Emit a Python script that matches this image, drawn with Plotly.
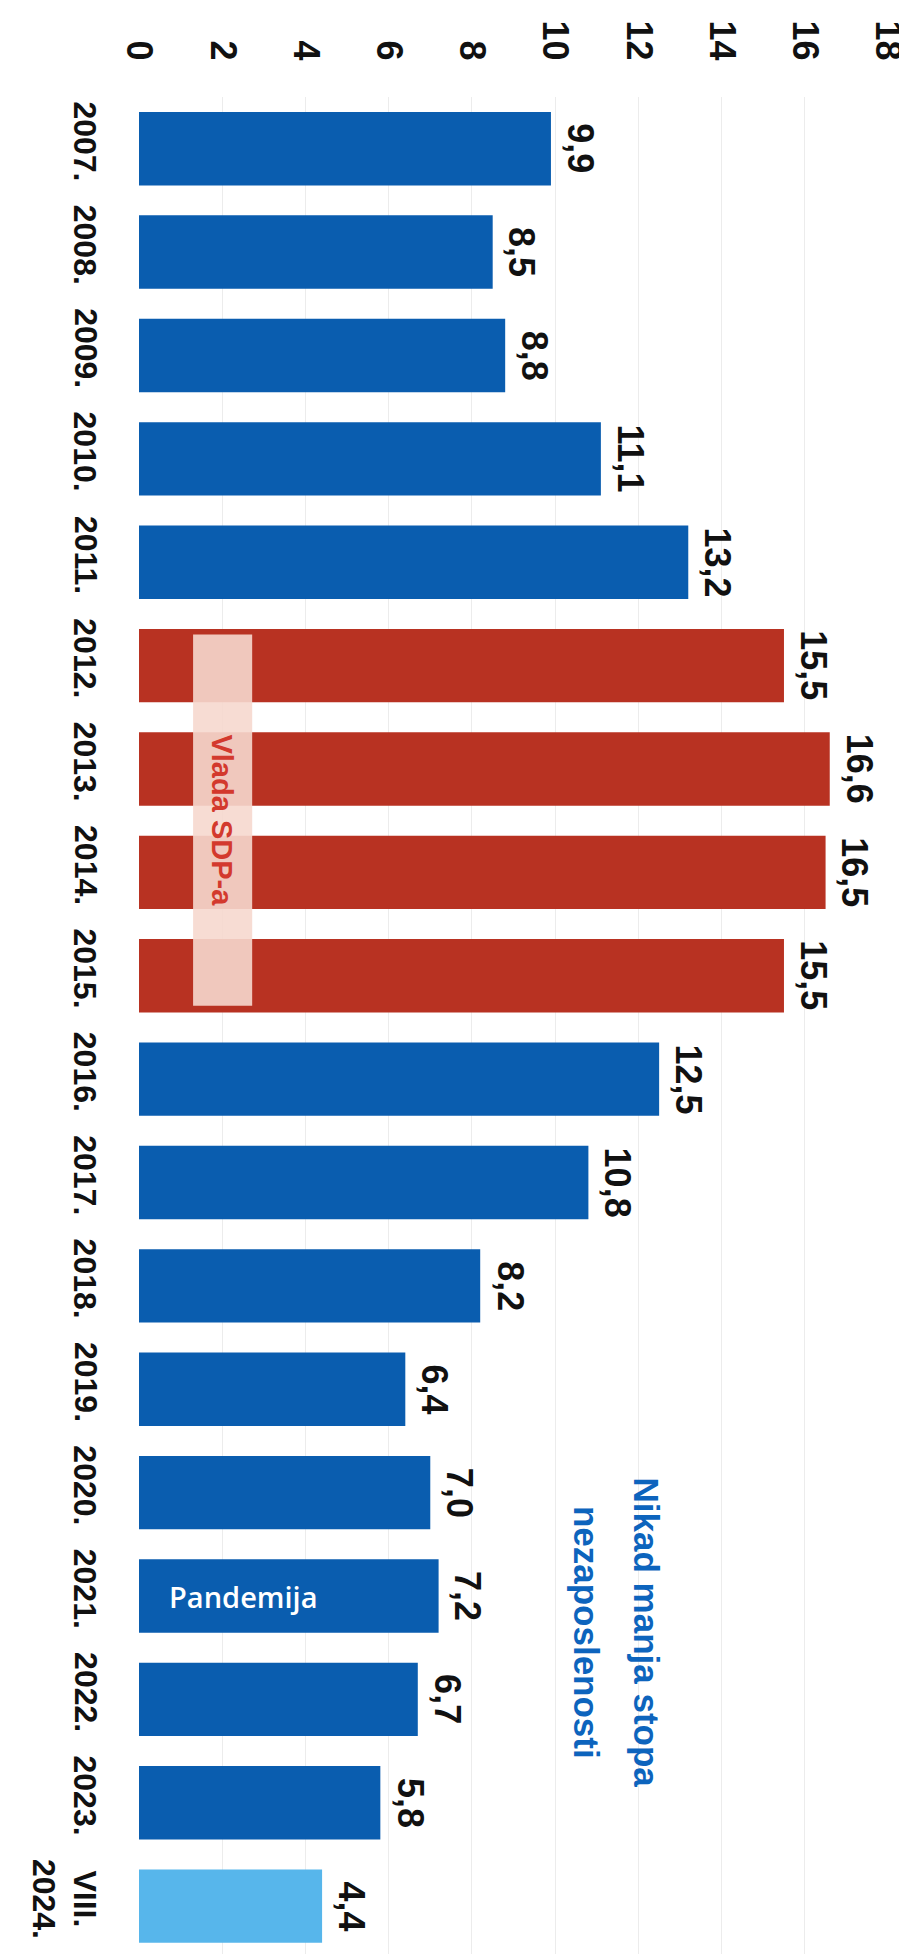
import plotly.graph_objects as go

categories = ["2007.", "2008.", "2009.", "2010.", "2011.", "2012.", "2013.", "2014.", "2015.",
              "2016.", "2017.", "2018.", "2019.", "2020.", "2021.", "2022.", "2023.", "VIII. 2024."]
year_labels = ["2007.", "2008.", "2009.", "2010.", "2011.", "2012.", "2013.", "2014.", "2015.",
               "2016.", "2017.", "2018.", "2019.", "2020.", "2021.", "2022.", "2023.", "VIII.<br>2024."]
values = [9.9, 8.5, 8.8, 11.1, 13.2, 15.5, 16.6, 16.5, 15.5, 12.5, 10.8, 8.2, 6.4, 7.0, 7.2, 6.7, 5.8, 4.4]
value_labels = ["9,9", "8,5", "8,8", "11,1", "13,2", "15,5", "16,6", "16,5", "15,5",
                "12,5", "10,8", "8,2", "6,4", "7,0", "7,2", "6,7", "5,8", "4,4"]
groups = ["base"] * 5 + ["sdp"] * 4 + ["base"] * 8 + ["latest"]
tick_vals = [0, 2, 4, 6, 8, 10, 12, 14, 16, 18]

color_map = {"base": "#0a5daf", "sdp": "#b83222", "latest": "#57b6eb"}
colors = [color_map[g] for g in groups]
idx = list(range(len(categories)))

SANS = "Liberation Sans, Arial, sans-serif"

fig = go.Figure()
fig.add_trace(go.Bar(
    x=values, y=categories, orientation="h",
    marker=dict(color=colors, line=dict(width=0)),
    hoverinfo="skip",
))

annotations = []

# value labels
for i, v, t in zip(idx, values, value_labels):
    annotations.append(dict(
        x=v, y=i, xref="x", yref="y", text=t, showarrow=False, textangle=90,
        xanchor="left", yanchor="middle", xshift=7,
        font=dict(family=SANS, weight="bold", size=36, color="#111111"),
    ))

# year labels (left)
for i, t in zip(idx, year_labels):
    annotations.append(dict(
        x=-0.045, y=i, xref="paper", yref="y", text=t, showarrow=False, textangle=90,
        xanchor="right", yanchor="middle", align="center", yshift=7,
        font=dict(family=SANS, weight="bold", size=32, color="#111111"),
    ))

# SDP government band
fig.add_shape(type="rect", xref="x", yref="y", x0=1.3, x1=2.72, y0=4.70, y1=8.29,
              fillcolor="rgba(246,216,206,0.9)", line=dict(width=0), layer="above")
annotations.append(dict(
    x=2.0, y=6.5, xref="x", yref="y", text="Vlada SDP-a", showarrow=False, textangle=90,
    xanchor="center", yanchor="middle",
    font=dict(family=SANS, weight="bold", size=29, color="#d3392d"),
))

# Pandemija label
annotations.append(dict(
    x=2.5, y=14, xref="x", yref="y", text="Pandemija", showarrow=False,
    xanchor="center", yanchor="middle",
    font=dict(family="Open Sans", weight=600, size=29, color="#ffffff"),
))

# title
annotations.append(dict(
    x=12.2, y=14.35, xref="x", yref="y", text="Nikad manja stopa", showarrow=False, textangle=90,
    xanchor="center", yanchor="middle",
    font=dict(family=SANS, weight="bold", size=35, color="#0d64bd"),
))
annotations.append(dict(
    x=10.75, y=14.35, xref="x", yref="y", text="nezaposlenosti", showarrow=False, textangle=90,
    xanchor="center", yanchor="middle",
    font=dict(family=SANS, weight="bold", size=35, color="#0d64bd"),
))

fig.update_layout(
    width=907, height=1954,
    margin=dict(l=131, r=27, t=89, b=0),
    paper_bgcolor="white", plot_bgcolor="white",
    showlegend=False, bargap=0.29,
    annotations=annotations,
)
fig.update_xaxes(
    range=[0, 18], side="top", tickvals=tick_vals, ticktext=[str(v) for v in tick_vals],
    tickangle=90, tickfont=dict(family=SANS, weight="bold", size=36, color="#111111"),
    showgrid=True, gridcolor="#ececec", gridwidth=1, zeroline=False,
    showline=False, ticks="", ticklabelstandoff=30,
)
fig.update_yaxes(
    type="category", categoryorder="array", categoryarray=categories, range=[17.54, -0.5],
    showticklabels=False, showgrid=False, zeroline=False, showline=False, ticks="",
)

fig.write_html("out.html")
